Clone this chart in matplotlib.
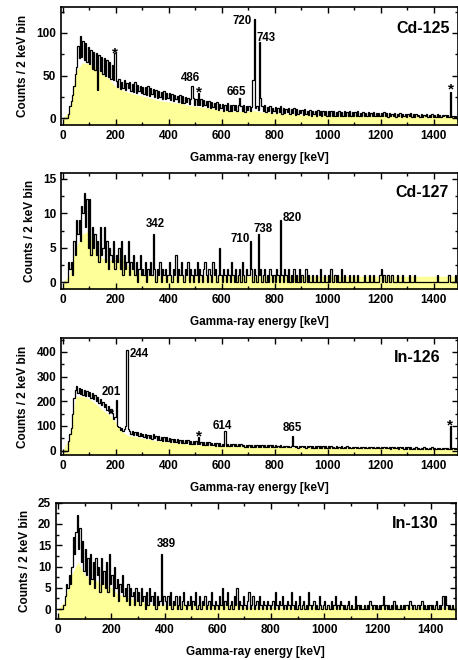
import numpy as np
import matplotlib
matplotlib.use("Agg")
import matplotlib.pyplot as plt
from matplotlib.ticker import MultipleLocator

plt.rcParams['font.family'] = ['Liberation Sans', 'DejaVu Sans']
plt.rcParams['font.weight'] = 'bold'

BIN_KEV = 5      # width of one entry of the count lists
FILL_KEV = 25    # spacing of the smoothed fill lists

panel_names = ["Cd-125", "Cd-127", "In-126", "In-130"]
x_label = "Gamma-ray energy [keV]"
y_label = "Counts / 2 keV bin"

# ---------------- Cd-125 ----------------
cd125_counts = [
    0, 0, 0, 0, 5, 14, 20, 27, 38, 52,
    60, 85, 70, 96, 72, 90, 68, 88, 66, 84,
    64, 80, 58, 78, 56, 76, 33, 74, 55, 72,
    52, 70, 50, 68, 48, 66, 46, 62, 45, 77,
    44, 36, 46, 34, 43, 35, 45, 33, 41, 35,
    42, 32, 40, 31, 43, 30, 39, 32, 38, 29,
    37, 28, 36, 27, 38, 26, 35, 28, 34, 25,
    33, 24, 32, 25, 31, 23, 32, 22, 30, 24,
    29, 21, 28, 20, 27, 22, 26, 19, 27, 18,
    26, 18, 25, 19, 24, 17, 23, 38, 24, 16,
    23, 16, 29, 15, 22, 14, 21, 15, 20, 13,
    20, 12, 19, 13, 18, 11, 19, 10, 17, 12,
    17, 9, 16, 10, 18, 8, 16, 9, 15, 10,
    16, 8, 15, 24, 14, 9, 15, 7, 14, 10,
    14, 9, 13, 45, 116, 12, 14, 10, 89, 24,
    14, 8, 15, 7, 13, 9, 14, 6, 12, 8,
    13, 6, 12, 7, 14, 5, 12, 6, 11, 7,
    12, 5, 11, 6, 12, 4, 11, 5, 10, 6,
    10, 4, 11, 5, 9, 4, 10, 3, 9, 5,
    9, 3, 10, 4, 8, 3, 9, 4, 8, 3,
    8, 3, 9, 2, 8, 3, 7, 2, 8, 3,
    7, 2, 8, 3, 7, 3, 8, 2, 7, 3,
    7, 2, 8, 3, 6, 2, 7, 2, 6, 3,
    7, 2, 6, 2, 7, 3, 6, 2, 6, 2,
    6, 2, 7, 2, 6, 1, 6, 2, 5, 2,
    6, 1, 5, 2, 6, 1, 5, 2, 5, 1,
    5, 2, 6, 1, 5, 1, 5, 2, 4, 1,
    5, 1, 4, 2, 5, 1, 4, 1, 5, 1,
    4, 1, 5, 1, 4, 1, 4, 2, 4, 1,
    4, 1, 31, 1, 3, 1, 3, 0, 3, 1,
]
cd125_fill = [
    0, 8, 55, 65, 64, 60, 52, 46, 37, 33,
    30, 28, 26, 24, 22, 20, 19, 18, 17, 15,
    14, 13, 12, 11, 9, 9, 8, 8, 8, 9,
    7, 7, 6, 6, 5, 5, 4, 4, 4, 3.5,
    3.5, 3.5, 3.5, 3.5, 3.5, 3, 3, 3, 3, 3,
    3, 3, 3, 3, 3, 2.5, 2.5, 2.5, 2.5, 2.5,
    2.5,
]

# ---------------- Cd-127 ----------------
cd127_counts = [
    0, 0, 0, 0, 3, 2, 3, 1, 6, 4,
    9, 7, 9, 6, 11, 10, 13, 8, 12, 5,
    12, 4, 8, 5, 7, 4, 6, 3, 8, 4,
    5, 8, 3, 6, 2, 5, 4, 3, 6, 2,
    4, 3, 5, 2, 6, 1, 4, 2, 3, 6,
    1, 3, 2, 4, 1, 3, 0, 2, 4, 1,
    2, 1, 3, 0, 2, 1, 3, 1, 7, 2,
    0, 2, 1, 3, 0, 2, 1, 2, 0, 1,
    3, 1, 0, 2, 1, 4, 0, 2, 1, 3,
    1, 0, 2, 1, 3, 0, 2, 1, 0, 2,
    1, 3, 0, 2, 1, 0, 2, 3, 1, 0,
    2, 1, 0, 3, 1, 2, 0, 1, 5, 1,
    0, 2, 1, 0, 2, 1, 0, 3, 1, 0,
    2, 0, 1, 2, 0, 3, 1, 0, 2, 1,
    1, 6, 2, 0, 2, 1, 0, 7, 1, 2,
    0, 1, 2, 0, 1, 0, 2, 1, 0, 1,
    0, 2, 1, 0, 9, 1, 0, 2, 1, 0,
    2, 0, 1, 0, 2, 0, 1, 0, 2, 0,
    1, 0, 0, 2, 0, 1, 0, 0, 1, 0,
    0, 1, 0, 0, 2, 0, 0, 1, 0, 0,
    1, 0, 2, 0, 0, 1, 0, 1, 0, 0,
    2, 0, 1, 0, 0, 0, 1, 0, 0, 1,
    0, 0, 1, 0, 0, 0, 0, 1, 0, 0,
    0, 1, 0, 0, 1, 0, 0, 0, 0, 1,
    2, 0, 1, 0, 0, 1, 0, 0, 1, 0,
    0, 0, 1, 0, 0, 0, 1, 0, 0, 0,
    0, 1, 0, 0, 0, 1, 0, 0, 0, 0,
    0, 0, 0, 0, 0, 0, 0, 0, 0, 0,
    0, 0, 1, 0, 0, 0, 0, 0, 0, 0,
    0, 1, 0, 0, 0, 0, 1, 0, 0, 1,
]
cd127_fill = [
    0, 1, 5, 7, 7.5, 4.5, 3.5, 3.2, 3.3, 3.6,
    2.2, 1.6, 1.2, 1.0, 0.9, 0.9, 0.9, 0.9, 0.9, 0.9,
    0.9, 0.9, 0.9, 0.9, 0.9, 0.9, 0.9, 0.9, 0.9, 0.9,
    0.9, 0.9, 0.9, 0.9, 0.9, 0.9, 0.9, 0.9, 0.9, 0.9,
    0.9, 0.9, 0.9, 0.9, 0.9, 0.9, 0.9, 0.9, 0.9, 0.9,
    0.9, 0.9, 0.9, 0.9, 0.9, 0.9, 0.9, 0.9, 0.9, 0.9,
    0.9,
]

# ---------------- In-126 ----------------
in126_counts = [
    0, 0, 0, 0, 40, 68, 90, 150, 215, 245,
    262, 232, 255, 228, 250, 226, 245, 222, 240, 220,
    238, 214, 232, 208, 225, 200, 218, 192, 210, 186,
    198, 176, 190, 166, 180, 158, 170, 152, 128, 135,
    205, 100, 96, 84, 92, 80, 88, 98, 407, 86,
    80, 66, 78, 64, 76, 62, 74, 60, 72, 58,
    68, 54, 66, 52, 64, 50, 62, 48, 68, 50,
    60, 44, 58, 42, 56, 40, 55, 39, 53, 38,
    50, 36, 48, 34, 47, 33, 46, 32, 44, 31,
    43, 30, 42, 29, 41, 28, 40, 27, 39, 26,
    38, 26, 56, 25, 36, 24, 35, 23, 34, 22,
    33, 22, 32, 21, 31, 20, 30, 19, 29, 19,
    28, 19, 81, 19, 27, 18, 27, 18, 26, 18,
    26, 17, 25, 17, 25, 17, 24, 16, 24, 16,
    24, 16, 23, 16, 24, 15, 23, 16, 22, 15,
    22, 15, 23, 14, 22, 15, 21, 14, 22, 14,
    21, 14, 20, 14, 21, 13, 20, 14, 20, 13,
    20, 13, 19, 58, 20, 13, 19, 12, 20, 13,
    19, 13, 18, 12, 19, 13, 18, 12, 19, 12,
    18, 12, 18, 11, 19, 12, 17, 11, 18, 12,
    17, 11, 17, 12, 16, 11, 17, 11, 16, 11,
    17, 10, 16, 11, 17, 10, 16, 11, 15, 10,
    15, 10, 16, 10, 15, 10, 16, 9, 15, 10,
    15, 9, 14, 10, 15, 9, 14, 10, 15, 9,
    14, 9, 14, 9, 13, 9, 14, 8, 14, 9,
    13, 9, 14, 8, 13, 9, 13, 8, 14, 8,
    13, 8, 13, 8, 12, 8, 13, 8, 12, 8,
    12, 8, 13, 7, 12, 8, 12, 7, 13, 8,
    12, 8, 12, 7, 12, 8, 11, 7, 12, 7,
    12, 7, 98, 7, 11, 8, 11, 7, 11, 7,
]
in126_fill = [
    0, 50, 220, 220, 210, 190, 165, 145, 115, 75,
    60, 56, 50, 46, 40, 37, 34, 31, 28, 26,
    24, 22, 20, 19, 18, 17, 16, 16, 15, 15,
    14, 14, 13, 13, 12.5, 12.5, 12, 12, 11.5, 11.5,
    11, 11, 10.5, 10, 9.5, 9.5, 9, 9, 8.5, 8.5,
    8.5, 8.5, 8, 8, 8, 7.5, 7.5, 7, 7, 7,
    7,
]

# ---------------- In-130 ----------------
in130_counts = [
    0, 0, 0, 0, 1, 3, 6, 5, 8, 6,
    10, 17, 13, 18, 22, 14, 19, 11, 16, 9,
    14, 8, 12, 6, 13, 7, 11, 5, 12, 8,
    10, 4, 12, 6, 9, 5, 11, 4, 13, 6,
    8, 3, 10, 5, 7, 2, 6, 4, 8, 3,
    5, 2, 6, 1, 5, 3, 4, 1, 5, 2,
    4, 1, 5, 2, 3, 0, 4, 1, 5, 2,
    3, 1, 4, 0, 3, 1, 2, 13, 1, 3,
    2, 0, 3, 1, 4, 0, 2, 1, 3, 0,
    1, 3, 0, 2, 4, 1, 0, 2, 1, 3,
    0, 2, 1, 4, 0, 1, 3, 0, 2, 1,
    3, 0, 1, 2, 0, 4, 1, 0, 2, 1,
    0, 3, 1, 5, 0, 2, 1, 4, 0, 1,
    2, 0, 3, 1, 5, 0, 2, 1, 0, 3,
    1, 0, 2, 4, 0, 1, 3, 0, 1, 2,
    0, 3, 1, 0, 2, 1, 0, 2, 1, 0,
    1, 2, 0, 4, 1, 0, 2, 1, 3, 0,
    1, 0, 2, 1, 0, 4, 1, 0, 2, 0,
    1, 3, 0, 1, 2, 0, 1, 0, 4, 1,
    0, 1, 2, 0, 1, 0, 3, 1, 0, 1,
    2, 0, 1, 1, 0, 2, 0, 1, 3, 0,
    1, 0, 2, 1, 0, 1, 0, 1, 2, 0,
    1, 0, 0, 3, 0, 1, 0, 1, 0, 0,
    1, 0, 1, 0, 2, 1, 0, 1, 0, 1,
    0, 1, 0, 1, 3, 0, 1, 0, 1, 0,
    1, 0, 2, 0, 1, 0, 0, 1, 0, 1,
    0, 1, 1, 0, 2, 1, 0, 1, 0, 0,
    1, 0, 1, 2, 0, 1, 0, 1, 0, 1,
    0, 1, 0, 1, 2, 0, 1, 0, 1, 3,
    0, 3, 1, 0, 1, 0, 1, 0, 0, 1,
]
in130_fill = [
    0, 2, 8, 11, 8, 7, 6.5, 6, 5, 3.5,
    3, 2.5, 2, 1.5, 1.2, 1, 1, 1, 1, 1,
    1, 1, 1, 1, 1, 1, 1, 1, 0.5, 0.5,
    0.5, 0.5, 0.5, 0.5, 0.5, 0.5, 0.5, 0.5, 0.5, 0.5,
    0.5, 0.5, 0.5, 0.5, 0.5, 0.5, 0.5, 0.5, 0.5, 0.5,
    0.5, 0.5, 0.5, 0.5, 0.5, 0.5, 0.5, 0.5, 0.5, 0.5,
    0.5,
]

# peak annotations: (text, energy, baseline count, ha, fontsize)
cd125_marks = [("*", 197, 71, "center", 11), ("486", 484, 43.5, "center", 8.3),
               ("*", 514, 25, "center", 11), ("665", 657, 27, "center", 8.3),
               ("720", 713, 110, "right", 8.3), ("743", 732, 90, "left", 8.3),
               ("*", 1464, 29, "center", 11)]
cd127_marks = [("342", 348, 8.0, "center", 8.3), ("710", 706, 5.8, "right", 8.3),
               ("738", 721, 7.3, "left", 8.3), ("820", 828, 8.9, "left", 8.3)]
in126_marks = [("*", 182, 129, "center", 11), ("201", 183, 226, "center", 8.3),
               ("244", 254, 381, "left", 8.3), ("*", 514, 41.6, "center", 11),
               ("614", 602, 88, "center", 8.3), ("865", 866, 78, "center", 8.3),
               ("*", 1460, 86, "center", 11)]
in130_marks = [("389", 405, 14.6, "center", 8.3)]

panels = [
    dict(counts=cd125_counts, fill=cd125_fill, marks=cd125_marks,
         rect=[0.1332, 0.8106, 0.8662, 0.1783], xlim=(-6, 1490), ylim=(-8, 130),
         ymaj=50, ymin_=25, name_pos=(0.98, 0.82)),
    dict(counts=cd127_counts, fill=cd127_fill, marks=cd127_marks,
         rect=[0.1332, 0.5617, 0.8662, 0.1758], xlim=(-6, 1490), ylim=(-1, 15.8),
         ymaj=5, ymin_=2.5, name_pos=(0.978, 0.836)),
    dict(counts=in126_counts, fill=in126_fill, marks=in126_marks,
         rect=[0.1332, 0.3106, 0.8662, 0.1768], xlim=(-6, 1490), ylim=(-18, 455),
         ymaj=100, ymin_=50, name_pos=(0.957, 0.834)),
    dict(counts=in130_counts, fill=in130_fill, marks=in130_marks,
         rect=[0.1223, 0.0617, 0.8723, 0.1767], xlim=(-8, 1494), ylim=(-2.4, 25),
         ymaj=5, ymin_=2.5, name_pos=(0.9575, 0.823)),
]

fig = plt.figure(figsize=(4.58, 6.60), dpi=100)

for name, p in zip(panel_names, panels):
    ax = fig.add_axes(p["rect"])
    ax.set_xlim(*p["xlim"])
    ax.set_ylim(*p["ylim"])
    counts = np.asarray(p["counts"], dtype=float)
    edges = np.arange(len(counts) + 1) * BIN_KEV
    fill = np.asarray(p["fill"], dtype=float)
    fe = np.arange(len(fill)) * FILL_KEV
    ax.fill_between(fe, p["ylim"][0], fill, color="#FFFF99", lw=0, zorder=1)
    ax.stairs(counts, edges, baseline=None, color="black", lw=0.9, zorder=2)

    for txt, e, yb, ha, fs in p["marks"]:
        ax.text(e, yb, txt, ha=ha, va="baseline", fontsize=fs,
                fontweight="bold", zorder=3)

    ax.text(p["name_pos"][0], p["name_pos"][1], name, transform=ax.transAxes,
            ha="right", va="center", fontsize=11.5, fontweight="bold")

    ax.xaxis.set_major_locator(MultipleLocator(200))
    ax.xaxis.set_minor_locator(MultipleLocator(100))
    ax.yaxis.set_major_locator(MultipleLocator(p["ymaj"]))
    ax.yaxis.set_minor_locator(MultipleLocator(p["ymin_"]))
    ax.tick_params(which="both", direction="in", top=True, right=True,
                   width=1.0)
    ax.tick_params(which="major", length=4, labelsize=8.5, pad=3.5)
    ax.tick_params(which="minor", length=2.5)
    for lab in ax.get_xticklabels() + ax.get_yticklabels():
        lab.set_fontweight("bold")
    for sp in ax.spines.values():
        sp.set_linewidth(1.2)

    ax.set_xlabel(x_label, fontsize=8.5, fontweight="bold")
    ax.xaxis.set_label_coords(0.5, -0.232)
    ax.set_ylabel(y_label, fontsize=8.5, fontweight="bold", labelpad=5)

fig.savefig("out.png", dpi=100)
